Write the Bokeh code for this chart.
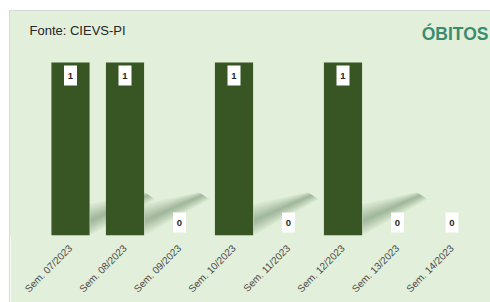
from math import pi
from bokeh.plotting import figure
from bokeh.models import Range1d, FixedTicker, Label, ColumnDataSource
from bokeh.core.properties import value
from bokeh.embed import file_html
from bokeh.resources import INLINE

# ---- data ----
categories = ["Sem. 07/2023", "Sem. 08/2023", "Sem. 09/2023", "Sem. 10/2023",
              "Sem. 11/2023", "Sem. 12/2023", "Sem. 13/2023", "Sem. 14/2023"]
obitos = [1, 1, 0, 1, 0, 1, 0, 0]
title_text = "ÓBITOS"
source_text = "Fonte: CIEVS-PI"

BG = "#E2EFDA"
BAR = "#375623"

# layout (pixels, relative to the figure)
W, H = 480, 291
MB = 67
pitch = 54.5               # px per category
first_c = 60               # px of first category centre
base_px = 224              # px (from top) of the baseline
unit_px = 173              # px per unit of value
x0 = -first_c / pitch
x1 = (W - first_c) / pitch
y1 = base_px / unit_px

p = figure(width=W, height=H, output_backend="svg", toolbar_location=None,
           x_range=Range1d(x0, x1), y_range=Range1d(0, y1),
           min_border_left=0, min_border_right=0, min_border_top=0, min_border_bottom=MB)
p.margin = (11, 0, 0, 10)
p.styles = {"outline": "1px solid #D9D9D9"}
p.background_fill_color = BG
p.border_fill_color = BG
p.outline_line_color = BG
p.outline_line_width = 2
p.grid.visible = False
p.yaxis.visible = False

xs = list(range(len(categories)))
bw = 0.7

# soft shadows cast by non-zero bars (layered to fake a blur)
sh_xs, sh_ys = [], []
for f in [1.0, 0.87, 0.74, 0.61, 0.48, 0.36, 0.24, 0.12]:
    for i, v in zip(xs, obitos):
        if v <= 0:
            continue
        xr = i + bw / 2
        outer = [(xr, 0.0), (xr, 0.18), (xr + 1.0, 0.25), (xr + 1.2, 0.21)]
        cl = (xr + 0.02, 0.085)
        cr = (xr + 1.08, 0.235)
        core = [cl, cl, cr, cr]
        sh_xs.append([c[0] + f * (o[0] - c[0]) for o, c in zip(outer, core)])
        sh_ys.append([c[1] + f * (o[1] - c[1]) for o, c in zip(outer, core)])
p.patches(sh_xs, sh_ys, fill_color="#1E3A10", fill_alpha=0.042, line_color=None)

src = ColumnDataSource(dict(x=xs, top=obitos))
p.vbar(x="x", top="top", width=bw, bottom=0, source=src, fill_color=BAR, line_color=None)

# data labels in white boxes
off = 13 / unit_px
ly = [v - off if v > 0 else v + off for v in obitos]
lsrc = ColumnDataSource(dict(x=xs, y=ly, t=[str(v) for v in obitos]))
p.rect(x="x", y="y", width=13, height=20, width_units="screen", height_units="screen",
       source=lsrc, fill_color="white", line_color=None)
p.text(x="x", y="y", text="t", source=lsrc, text_align="center", text_baseline="middle",
       text_font=value("Liberation Sans"), text_font_size="9.5px", text_font_style="bold",
       text_color="#262626")

ax = p.xaxis[0]
ax.ticker = FixedTicker(ticks=xs)
ax.major_label_overrides = {i: c for i, c in zip(xs, categories)}
ax.major_label_orientation = pi / 4
ax.axis_line_color = None
ax.major_tick_line_color = None
ax.minor_tick_line_color = None
ax.major_tick_out = 0
ax.major_tick_in = 0
ax.minor_tick_out = 0
ax.minor_tick_in = 0
ax.major_label_text_font = "Liberation Sans"
ax.major_label_text_font_size = "10px"
ax.major_label_text_color = "#4A4A4A"
ax.major_label_standoff = 11

p.add_layout(Label(x=x0 + 19 / pitch, y=y1 - 19 / unit_px,
                   text=source_text, text_font="Liberation Sans", text_font_size="13px",
                   text_color="#262626", text_baseline="middle", text_align="left"))
p.add_layout(Label(x=x0 + 478 / pitch, y=y1 - 22 / unit_px,
                   text=title_text, text_font="Liberation Sans", text_font_size="17.5px",
                   text_font_style="bold", text_color="#3A8C6E",
                   text_baseline="middle", text_align="right"))

open("out.html", "w").write(file_html(p, INLINE))
